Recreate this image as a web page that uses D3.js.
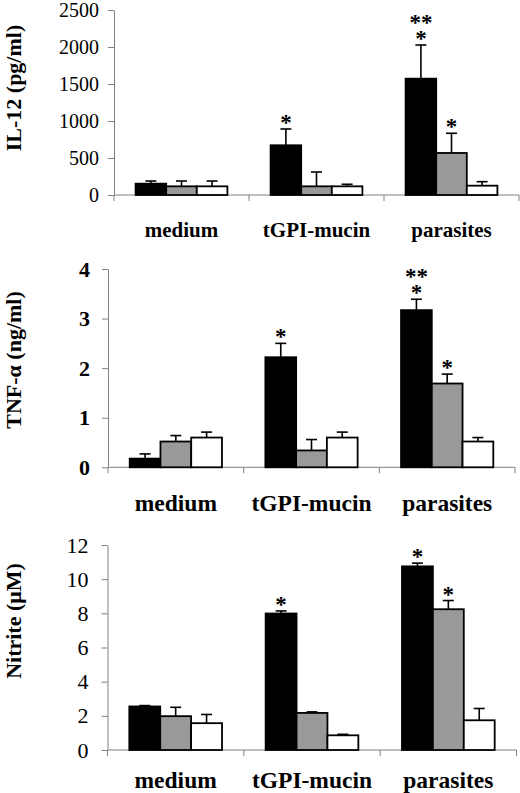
<!DOCTYPE html>
<html>
  <head>
    <script src="https://d3js.org/d3.v7.min.js"></script>
    <style>
      body { margin: 0; background: #fff; }
      svg text { font-family: "Liberation Serif", "Times New Roman", serif; }
    </style>
  </head>
  <body>
    <script>

    // categories and the three series (black, gray, white)
    var categories = ["medium", "tGPI-mucin", "parasites"];
    var seriesColors = ["#000000", "#999999", "#ffffff"];

    // IL-12 (pg/ml): values[category][series], upper error
    var il12Values = [[153, 117, 117], [672, 117, 117], [1572, 568, 126]];
    var il12Errors = [[36, 72, 72], [220, 194, 28], [455, 266, 54]];
    var il12Ticks = [0, 500, 1000, 1500, 2000, 2500];
    var il12Stars = [[1, 0, ["*"]], [2, 0, ["**", "*"]], [2, 1, ["*"]]];

    // TNF-alpha (ng/ml)
    var tnfValues = [[0.175, 0.52, 0.60], [2.22, 0.34, 0.60], [3.17, 1.69, 0.52]];
    var tnfErrors = [[0.095, 0.12, 0.11], [0.28, 0.22, 0.11], [0.22, 0.19, 0.08]];
    var tnfTicks = [0, 1, 2, 3, 4];
    var tnfStars = [[1, 0, ["*"]], [2, 0, ["**", "*"]], [2, 1, ["*"]]];

    // Nitrite (uM)
    var nitriteValues = [[2.55, 1.98, 1.57], [7.99, 2.17, 0.86], [10.75, 8.24, 1.74]];
    var nitriteErrors = [[0.05, 0.52, 0.51], [0.15, 0.06, 0.06], [0.19, 0.51, 0.69]];
    var nitriteTicks = [0, 2, 4, 6, 8, 10, 12];
    var nitriteStars = [[1, 0, ["*"]], [2, 0, ["*"]], [2, 1, ["*"]]];

    var w = 520;
    var h = 793;

    var svg = d3.select("body")
      .append("svg")
      .attr("width", w)
      .attr("height", h);

    // panel layout
    var panels = [
      { title: "IL-12 (pg/ml)", values: il12Values, errors: il12Errors, ticks: il12Ticks,
        stars: il12Stars, x: [114, 519], y: [195, 10], titleY: 88, pad: 9, bold: false,
        tickSize: 20, labelSize: 21, labelDy: 42 },
      { title: "TNF-\u03b1 (ng/ml)", values: tnfValues, errors: tnfErrors, ticks: tnfTicks,
        stars: tnfStars, x: [108, 515], y: [467.3, 269], titleY: 360, pad: 12, bold: true,
        tickSize: 22, labelSize: 23.5, labelDy: 44 },
      { title: "Nitrite (\u03bcM)", values: nitriteValues, errors: nitriteErrors, ticks: nitriteTicks,
        stars: nitriteStars, x: [107.5, 516.5], y: [750, 545], titleY: 621, pad: 13, bold: false,
        tickSize: 22, labelSize: 23.5, labelDy: 38 }
    ];

    panels.forEach(function(p) {
      var g = svg.append("g");

      var x0 = d3.scaleBand()
        .domain(d3.range(categories.length))
        .range(p.x)
        .paddingInner(0.32)
        .paddingOuter(0.16);

      var x1 = d3.scaleBand()
        .domain(d3.range(seriesColors.length))
        .range([0, x0.bandwidth()]);

      var y = d3.scaleLinear()
        .domain([0, d3.max(p.ticks)])
        .range(p.y);

      // y axis
      var yAxis = g.append("g")
        .attr("transform", "translate(" + p.x[0] + ",0)")
        .call(d3.axisLeft(y)
          .tickValues(p.ticks)
          .tickFormat(d3.format("d"))
          .tickSize(6)
          .tickSizeOuter(0)
          .tickPadding(p.pad));
      yAxis.attr("font-family", null);
      yAxis.select(".domain").attr("stroke", "#808080");
      yAxis.selectAll(".tick line").attr("stroke", "#808080");
      yAxis.selectAll(".tick text")
        .attr("fill", "#000")
        .style("font-size", p.tickSize + "px")
        .style("font-family", "'Liberation Serif', serif")
        .style("font-weight", p.bold ? "bold" : "normal");

      // x axis line with ticks at category boundaries
      var y0 = y(0);
      g.append("line")
        .attr("x1", p.x[0]).attr("x2", p.x[1])
        .attr("y1", y0).attr("y2", y0)
        .attr("stroke", "#808080");
      var bounds = d3.range(categories.length + 1).map(function(i) {
        return p.x[0] + i * x0.step();
      });
      g.selectAll(".xtick")
        .data(bounds)
        .enter()
        .append("line")
        .attr("x1", function(d) { return d; })
        .attr("x2", function(d) { return d; })
        .attr("y1", y0)
        .attr("y2", y0 + 6)
        .attr("stroke", "#808080");

      // category labels
      g.selectAll(".cat")
        .data(categories)
        .enter()
        .append("text")
        .attr("x", function(d, i) { return x0(i) + x0.bandwidth() / 2; })
        .attr("y", y0 + p.labelDy)
        .attr("text-anchor", "middle")
        .attr("font-size", p.labelSize + "px")
        .attr("font-weight", "bold")
        .text(function(d) { return d; });

      // y title
      g.append("text")
        .attr("transform", "translate(13," + p.titleY + ") rotate(-90)")
        .attr("text-anchor", "middle")
        .attr("dominant-baseline", "central")
        .attr("font-size", "22px")
        .attr("font-weight", "bold")
        .text(p.title);

      // flatten bars
      var bars = [];
      p.values.forEach(function(row, ci) {
        row.forEach(function(v, si) {
          bars.push({ c: ci, s: si, v: v, e: p.errors[ci][si] });
        });
      });

      function cx(d) { return x0(d.c) + x1(d.s) + x1.bandwidth() / 2; }

      // error bars (upper only)
      g.selectAll(".err")
        .data(bars)
        .enter()
        .append("line")
        .attr("x1", cx).attr("x2", cx)
        .attr("y1", function(d) { return y(d.v); })
        .attr("y2", function(d) { return y(d.v + d.e); })
        .attr("stroke", "#000")
        .attr("stroke-width", 1.6);
      g.selectAll(".cap")
        .data(bars)
        .enter()
        .append("line")
        .attr("x1", function(d) { return cx(d) - 5.5; })
        .attr("x2", function(d) { return cx(d) + 5.5; })
        .attr("y1", function(d) { return y(d.v + d.e); })
        .attr("y2", function(d) { return y(d.v + d.e); })
        .attr("stroke", "#000")
        .attr("stroke-width", 1.6);

      // bars
      g.selectAll(".bar")
        .data(bars)
        .enter()
        .append("rect")
        .attr("x", function(d) { return x0(d.c) + x1(d.s); })
        .attr("y", function(d) { return y(d.v); })
        .attr("width", x1.bandwidth())
        .attr("height", function(d) { return y0 - y(d.v); })
        .attr("fill", function(d) { return seriesColors[d.s]; })
        .attr("stroke", "#000")
        .attr("stroke-width", 1.8);

      // significance stars (one text, stacked rows)
      p.stars.forEach(function(st) {
        var d = { c: st[0], s: st[1], v: p.values[st[0]][st[1]], e: p.errors[st[0]][st[1]] };
        var top = y(d.v + d.e);
        var rows = st[2];
        var t = g.append("text")
          .attr("text-anchor", "middle")
          .attr("font-size", "23px")
          .attr("font-weight", "bold");
        rows.forEach(function(label, k) {
          t.append("tspan")
            .attr("x", cx(d))
            .attr("y", top + 1 - (rows.length - 1 - k) * 16)
            .text(label);
        });
      });
    });

    </script>
  </body>
</html>
